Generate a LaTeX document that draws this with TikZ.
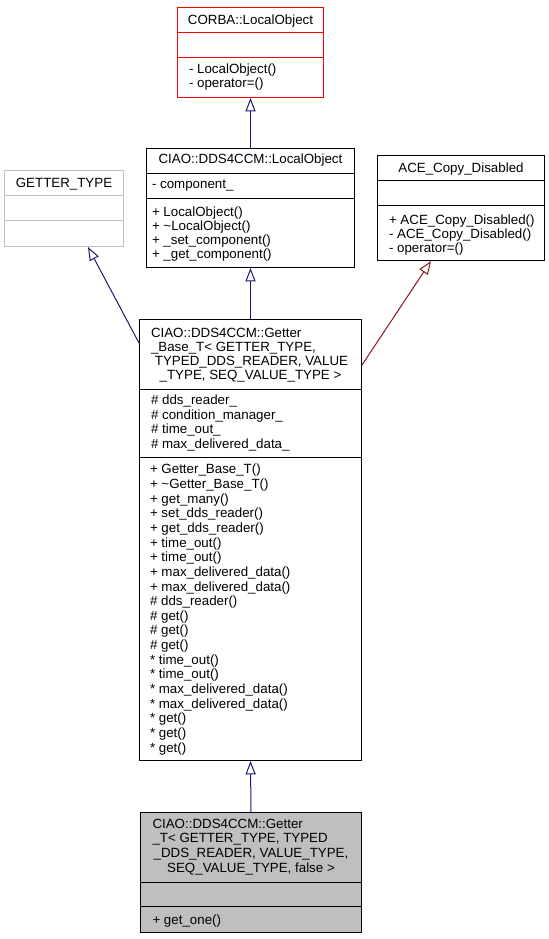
\documentclass[tikz,border=0pt]{standalone}
\usepackage{fontspec}
\setmainfont{Liberation Sans}
\usetikzlibrary{arrows.meta,calc,fit}
\definecolor{edgeblue}{HTML}{191970}
\definecolor{edgered}{HTML}{8B1A1A}
\definecolor{boxred}{HTML}{FF0000}
\definecolor{boxgray}{HTML}{BFBFBF}

\begin{document}
\begin{tikzpicture}[x=0.75bp,y=-0.75bp,line width=0.75bp,
  font=\fontsize{10bp}{12bp}\selectfont,
  cls/.style={draw,inner sep=0pt},
  ttl/.style={inner sep=0pt,anchor=base},
  mem/.style={inner sep=0pt,anchor=base west},
  inh/.style={draw=edgeblue,-{Triangle[open,length=10bp,width=7.5bp]}},
  inhpriv/.style={draw=edgered,-{Triangle[open,length=10bp,width=7.5bp]}}]
\fill[white] (-0.5,-0.5) rectangle (548.5,938.5);
\useasboundingbox (-0.5,-0.5) rectangle (548.5,938.5);
% CORBA::LocalObject
\node[cls,draw=boxred,fit={(177,7) (323,97)}] (corba) {};
\draw[boxred] (corba.west |- 0,32) -- (corba.east |- 0,32);
\draw[boxred] (corba.west |- 0,57) -- (corba.east |- 0,57);
\node[ttl] (corbaT) at (250,24) {CORBA::LocalObject};
\node[mem] (corbaM1) at (188,73) {- LocalObject()};
\node[mem] (corbaM2) at (188,87) {- operator=()};
% CIAO::DDS4CCM::LocalObject
\node[cls,fit={(146,148) (354,267)}] (lobj) {};
\draw (lobj.west |- 0,173) -- (lobj.east |- 0,173);
\draw (lobj.west |- 0,198) -- (lobj.east |- 0,198);
\node[ttl] (lobjT) at (250,163) {CIAO::DDS4CCM::LocalObject};
\node[mem] (lobjA) at (151,188) {- component\_};
\foreach \t [count=\i] in {+ LocalObject(),+ \textasciitilde LocalObject(),+ \_set\_component(),+ \_get\_component()}
  \node[mem] (lobjM\i) at (151,216+14*\i-14) {\t};
% GETTER_TYPE
\node[cls,draw=boxgray,fit={(4,170) (123,246)}] (gtype) {};
\draw[boxgray] (gtype.west |- 0,195) -- (gtype.east |- 0,195);
\draw[boxgray] (gtype.west |- 0,220) -- (gtype.east |- 0,220);
\node[ttl] (gtypeT) at (63.5,187) {GETTER\_TYPE};
% ACE_Copy_Disabled
\node[cls,fit={(377,155) (544,260)}] (ace) {};
\draw (ace.west |- 0,180) -- (ace.east |- 0,180);
\draw (ace.west |- 0,205) -- (ace.east |- 0,205);
\node[ttl] (aceT) at (460.5,172) {ACE\_Copy\_Disabled};
\foreach \t [count=\i] in {+ ACE\_Copy\_Disabled(),- ACE\_Copy\_Disabled(),- operator=()}
  \node[mem] (aceM\i) at (388,223.5+14*\i-14) {\t};
% Getter_Base_T
\node[cls,fit={(139,319) (361,760)}] (gbase) {};
\draw (gbase.west |- 0,389) -- (gbase.east |- 0,389);
\draw (gbase.west |- 0,457) -- (gbase.east |- 0,457);
\node[mem] (gbaseT1) at (150,337) {CIAO::DDS4CCM::Getter};
\node[mem] (gbaseT2) at (150,351) {\_Base\_T< GETTER\_TYPE,};
\node[ttl] (gbaseT3) at (251,365) {TYPED\_DDS\_READER, VALUE};
\node[ttl] (gbaseT4) at (250,379) {\_TYPE, SEQ\_VALUE\_TYPE >};
\foreach \t [count=\i] in {\# dds\_reader\_,\# condition\_manager\_,\# time\_out\_,\# max\_delivered\_data\_}
  \node[mem] (gbaseA\i) at (150,404+14.5*\i-14.5) {\t};
\foreach \t [count=\i] in {+ Getter\_Base\_T(),+ \textasciitilde Getter\_Base\_T(),+ get\_many(),
    + set\_dds\_reader(),+ get\_dds\_reader(),+ time\_out(),+ time\_out(),
    + max\_delivered\_data(),+ max\_delivered\_data(),\# dds\_reader(),\# get(),\# get(),\# get(),
    * time\_out(),* time\_out(),* max\_delivered\_data(),* max\_delivered\_data(),* get(),* get(),* get()}
  \node[mem] (gbaseM\i) at (149,473.3+14.65*\i-14.65) {\t};
% Getter_T
\node[cls,fill=boxgray,fit={(140,812) (361,932)}] (getter) {};
\draw (getter.west |- 0,882) -- (getter.east |- 0,882);
\draw (getter.west |- 0,906) -- (getter.east |- 0,906);
\node[mem] (getterT1) at (151.5,828) {CIAO::DDS4CCM::Getter};
\node[mem] (getterT2) at (151.5,842) {\_T< GETTER\_TYPE, TYPED};
\node[ttl] (getterT3) at (250.5,857) {\_DDS\_READER, VALUE\_TYPE,};
\node[ttl] (getterT4) at (250.5,872) {SEQ\_VALUE\_TYPE, false >};
\node[mem] (getterM1) at (151.5,924) {+ get\_one()};
% inheritance
\draw[inh] (lobj.north) -- (corba.south);
\draw[inh] (gbase.north) -- (lobj.south);
\draw[inh] ($(gbase.north west)+(0,24)$) -- ($(gtype.south)+(24,0)$);
\draw[inhpriv] ($(gbase.north east)+(0,46)$) -- ($(ace.south)+(-30,0)$);
\draw[inh] (getter.north) -- (gbase.south);
\end{tikzpicture}
\end{document}
